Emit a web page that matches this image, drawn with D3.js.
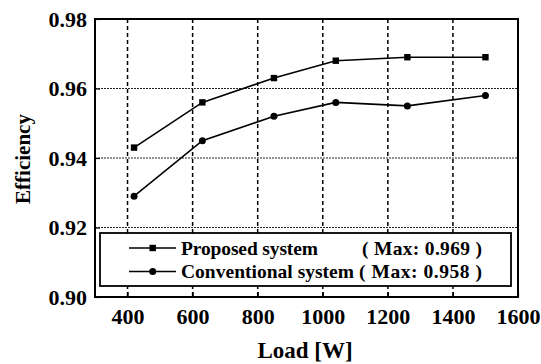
<!DOCTYPE html>
<html><head><meta charset="utf-8">
<script src="https://cdn.jsdelivr.net/npm/d3@7"></script>
<style>html,body{margin:0;padding:0;background:#fff;} svg{display:block;}</style>
</head><body>
<svg id="c" width="541" height="364"></svg>
<script>
const loads = [420, 630, 850, 1040, 1260, 1500];
const proposed = [0.943, 0.956, 0.963, 0.968, 0.969, 0.969];
const conventional = [0.929, 0.945, 0.952, 0.956, 0.955, 0.958];
const xTicks = [400, 600, 800, 1000, 1200, 1400, 1600];
const yTicks = [0.90, 0.92, 0.94, 0.96, 0.98];
const seriesNames = ["Proposed system", "Conventional system"];
const maxLabels = ["0.969", "0.958"];
const xTitle = "Load [W]";
const yTitle = "Efficiency";

const svg = d3.select("#c");
const L = 95, R = 518, T = 19, B = 297;
const x = d3.scaleLinear().domain([300, 1600]).range([L, R]);
const y = d3.scaleLinear().domain([0.90, 0.98]).range([B, T]);
const font = "'Liberation Serif','Times New Roman',serif";

// gridlines
svg.append("g").selectAll("line").data(yTicks.filter(v => v > 0.905 && v < 0.975)).join("line")
  .attr("x1", L).attr("x2", R).attr("y1", d => y(d)).attr("y2", d => y(d))
  .attr("stroke", "#222").attr("stroke-width", 1).attr("stroke-dasharray", "2,1");
svg.append("g").selectAll("line").data(xTicks.filter(v => v < 1550)).join("line")
  .attr("x1", d => x(d)).attr("x2", d => x(d)).attr("y1", T).attr("y2", B)
  .attr("stroke", "#000").attr("stroke-width", 1.5).attr("stroke-dasharray", "4,3");

// axes
const xAxis = d3.axisBottom(x).tickValues(xTicks).tickSize(-5).tickPadding(11).tickFormat(d3.format("d"));
const yAxis = d3.axisLeft(y).tickValues(yTicks).tickSize(-5).tickPadding(8).tickFormat(d3.format(".2f"));
const gx = svg.append("g").attr("transform", `translate(0,${B})`).call(xAxis);
const gy = svg.append("g").attr("transform", `translate(${L},0)`).call(yAxis);
[gx, gy].forEach(g => {
  g.select(".domain").remove();
  g.selectAll("text").attr("font-family", font).attr("font-weight", "bold").attr("font-size", 22).attr("fill", "#000");
  g.selectAll("line").attr("stroke", "#000").attr("stroke-width", 1.2);
});
gx.selectAll("text").attr("dy", "0.71em");

// frame
svg.append("rect").attr("x", L).attr("y", T).attr("width", R - L).attr("height", B - T)
  .attr("fill", "none").attr("stroke", "#000").attr("stroke-width", 2);

// lines
const line = d3.line().x((d, i) => x(loads[i])).y(d => y(d));
[proposed, conventional].forEach(s => {
  svg.append("path").datum(s).attr("d", line).attr("fill", "none").attr("stroke", "#000").attr("stroke-width", 1.6);
});
svg.append("g").selectAll("rect").data(proposed).join("rect")
  .attr("x", (d, i) => x(loads[i]) - 3.2).attr("y", d => y(d) - 3.2)
  .attr("width", 6.4).attr("height", 6.4).attr("fill", "#000");
svg.append("g").selectAll("circle").data(conventional).join("circle")
  .attr("cx", (d, i) => x(loads[i])).attr("cy", d => y(d)).attr("r", 3.5).attr("fill", "#000");

// legend
svg.append("rect").attr("x", 100).attr("y", 233).attr("width", 411).attr("height", 53)
  .attr("fill", "#fff").attr("stroke", "#000").attr("stroke-width", 1.8);
const rowsY = [248, 271.5];
seriesNames.forEach((name, i) => {
  const cy = rowsY[i];
  svg.append("line").attr("x1", 129).attr("x2", 176).attr("y1", cy).attr("y2", cy).attr("stroke", "#000").attr("stroke-width", 1.5);
  if (i === 0) svg.append("rect").attr("x", 149.5).attr("y", cy - 3.2).attr("width", 6.4).attr("height", 6.4).attr("fill", "#000");
  else svg.append("circle").attr("cx", 152.7).attr("cy", cy).attr("r", 3.5).attr("fill", "#000");
  svg.append("text").attr("x", 181).attr("y", cy).attr("dy", "0.35em")
    .attr("font-family", font).attr("font-weight", "bold").attr("font-size", 19.5).attr("fill", "#000")
    .attr("textLength", i === 0 ? 137 : 173).attr("lengthAdjust", "spacing").text(name);
  const t = svg.append("text").attr("x", i === 0 ? 362 : 359).attr("y", cy).attr("dy", "0.35em")
    .attr("font-family", font).attr("font-weight", "bold").attr("font-size", 19.5).attr("fill", "#000")
    .attr("textLength", i === 0 ? 120 : 123).attr("lengthAdjust", "spacing");
  t.append("tspan").text("( Max: ");
  t.append("tspan").text(maxLabels[i]);
  t.append("tspan").text(" )");
});

// titles
svg.append("text").attr("x", 305).attr("y", 358).attr("text-anchor", "middle")
  .attr("font-family", font).attr("font-weight", "bold").attr("font-size", 23).attr("fill", "#000").text(xTitle);
svg.append("text").attr("transform", "translate(30,159) rotate(-90)").attr("text-anchor", "middle")
  .attr("font-family", font).attr("font-weight", "bold").attr("font-size", 21).attr("fill", "#000").text(yTitle);
</script>
</body></html>
